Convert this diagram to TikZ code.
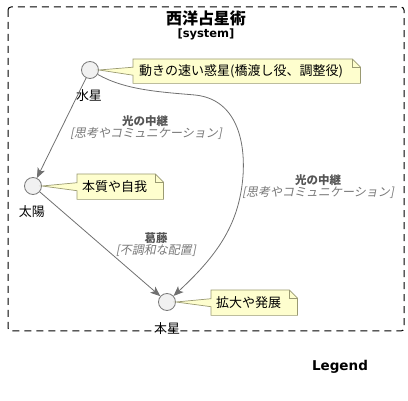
\documentclass[tikz,border=0pt]{standalone}
\usepackage{fontspec}
\setmainfont{Noto Sans CJK JP}
\newfontfamily\cjkit{Noto Sans CJK JP}[FakeSlant=0.2]
\newfontfamily\latinb{DejaVu Sans}
\usetikzlibrary{arrows.meta}
\definecolor{notefill}{HTML}{FEFECE}
\definecolor{noteline}{HTML}{9A9A72}
\definecolor{planetfill}{HTML}{F1F1F1}
\definecolor{planetline}{HTML}{7A7A7A}
\definecolor{edgecol}{HTML}{707070}
\definecolor{elabel}{HTML}{555555}
\definecolor{eitalic}{HTML}{777777}
\tikzset{
  planet/.style={circle, draw=planetline, fill=planetfill, minimum size=17pt, inner sep=0pt, line width=0.8pt},
  plabel/.style={font=\fontsize{13pt}{15pt}\selectfont, inner sep=0pt},
  notebox/.style={anchor=north west, inner sep=0pt, font=\fontsize{13pt}{15pt}\selectfont},
  noteshape/.style={draw=noteline, fill=notefill, line width=0.7pt, line join=miter},
  edge/.style={draw=edgecol, line width=0.8pt, -{Stealth[length=10pt, width=8pt, inset=2.5pt]}},
  ebold/.style={font=\fontsize{11.5pt}{13pt}\selectfont\bfseries, text=elabel, inner sep=0pt},
  eital/.style={font=\fontsize{12pt}{14pt}\selectfont\cjkit, text=eitalic, inner sep=0pt},
  frame/.style={draw=black, line width=1pt, dash pattern=on 7pt off 5pt, rounded corners=3pt}
}
\newcommand{\notepath}[2]{%
  \draw[noteshape] (#1.north west) -- ([xshift=-8pt]#1.north east) -- ([yshift=-8pt]#1.north east)
    -- (#1.south east) -- (#1.south west) -- ([yshift=-4pt]#1.west) -- (#2.east)
    -- ([yshift=4pt]#1.west) -- cycle;
  \draw[noteshape, fill=none] ([xshift=-8pt]#1.north east) |- ([yshift=-8pt]#1.north east);
}
\begin{document}
\begin{tikzpicture}[x=1pt,y=-1pt]
\useasboundingbox (0,0) rectangle (408,401);
% frame
\draw[frame] (8,7) rectangle (404,331);
\node[font=\fontsize{16pt}{18pt}\selectfont\bfseries, inner sep=0pt] (title) at (206,18) {西洋占星術};
\node[font=\fontsize{11.5pt}{13pt}\selectfont\latinb\bfseries, inner sep=0pt] (stereo) at (206,34) {[system]};
% planets
\node[planet] (m) at (90,70) {};
\node[planet] (s) at (33,186) {};
\node[planet] (j) at (167,302) {};
\node[plabel] (ml) at (89,96) {水星};
\node[plabel] (sl) at (32,212) {太陽};
\node[plabel] (jl) at (167,329) {木星};
% notes
\node[notebox, minimum width=227pt, minimum height=24pt] (n1) at (133,59) {};
\notepath{n1}{m}
\node[inner sep=0pt, anchor=west, font=\fontsize{13pt}{15pt}\selectfont] (t1) at ([xshift=6pt]n1.west) {動きの速い惑星(橋渡し役、調整役)};
\node[notebox, minimum width=86pt, minimum height=25pt] (n2) at (77,174) {};
\notepath{n2}{s}
\node[inner sep=0pt, anchor=west, font=\fontsize{13pt}{15pt}\selectfont] (t2) at ([xshift=5pt]n2.west) {本質や自我};
\node[notebox, minimum width=86pt, minimum height=25pt] (n3) at (211,290) {};
\notepath{n3}{j}
\node[inner sep=0pt, anchor=west, font=\fontsize{13pt}{15pt}\selectfont] (t3) at ([xshift=5pt]n3.west) {拡大や発展};
% edges
\draw[edge] (m) -- (s);
\draw[edge] (s) -- (j);
\draw[edge] (m) .. controls (125,90) and (160,92) .. (195,95)
  .. controls (245,100) and (248,160) .. (240,197)
  .. controls (232,235) and (210,262) .. (j);
% edge labels
\node[ebold] (e1a) at (145,121) {光の中継};
\node[eital] (e1b) at (146,133) {[思考やコミュニケーション]};
\node[ebold] (e2a) at (318,180) {光の中継};
\node[eital] (e2b) at (318,192) {[思考やコミュニケーション]};
\node[ebold] (e3a) at (156,238) {葛藤};
\node[eital] (e3b) at (156,251) {[不調和な配置]};
% legend
\node[font=\fontsize{13.5pt}{15pt}\selectfont\latinb\bfseries, inner sep=0pt] (legend) at (340,367) {Legend};
\end{tikzpicture}
\end{document}
